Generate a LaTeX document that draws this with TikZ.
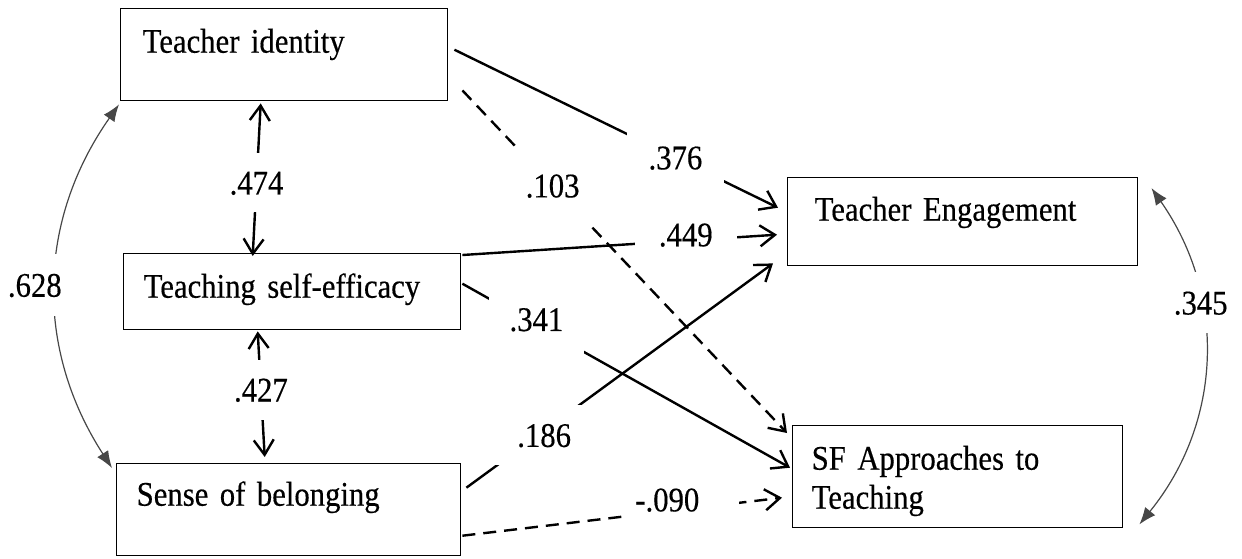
\documentclass[tikz,border=0pt]{standalone}
\usepackage{fontspec}
\setmainfont{Liberation Serif}[FakeStretch=0.89,FakeBold=0.4]
\usetikzlibrary{arrows.meta}
\newcommand{\txshift}[2]{\hspace*{#1}#2\hspace*{-#1}}
\begin{document}
\begin{tikzpicture}[x=1pt,y=-1pt, font=\fontsize{34.5pt}{39pt}\selectfont,
  box/.style={draw=black, line width=1.4pt, anchor=north west, align=left, inner ysep=0pt},
  lbl/.style={fill=white, inner ysep=0pt, text height=23.4pt, text depth=0pt},
  conn/.style={line width=2.4pt, -{Straight Barb[length=15pt,width=21pt]}},
  conntwo/.style={line width=2.4pt, {Straight Barb[length=15pt,width=20pt]}-{Straight Barb[length=15pt,width=20pt]}},
  dashline/.style={dash pattern=on 13pt off 8pt},
  corr/.style={line width=1.2pt, draw=black!72, {Latex[length=17pt,width=13pt]}-{Latex[length=17pt,width=13pt]}}
]
\useasboundingbox (0,0) rectangle (1242,558);

% boxes
\node[box, text width=283pt, inner xsep=22pt, text height=44pt, text depth=48pt] (TI) at (120,8) {Teacher identity};
\node[box, text width=297pt, inner xsep=20pt, text height=44pt, text depth=32pt] (TSE) at (123,253) {Teaching self-efficacy};
\node[box, text width=304pt, inner xsep=20pt, text height=42pt, text depth=50pt] (SoB) at (116,463) {Sense of belonging};
\node[box, text width=296pt, inner xsep=27pt, text height=43pt, text depth=45pt] (TE) at (787,177) {Teacher Engagement};
\node[box, text width=292pt, inner xsep=19pt, text height=44pt, text depth=58pt] (SF) at (792,425) {SF Approaches to\\Teaching};

% paths
\draw[conn] ([shift={(6,-5)}]TI.east) -- node[lbl, pos=0.683, inner xsep=22pt, minimum height=60pt] (l376) {.376} ([shift={(-9,-14)}]TE.west);
\draw[conn, dashline] ([shift={(14,-11)}]TI.south east) -- node[lbl, pos=0.278, inner xsep=10pt, minimum height=74pt] (l103) {.103} ([shift={(-5,8)}]SF.north west);
\draw[conn] ([shift={(1,2)}]TSE.north east) -- node[lbl, pos=0.71, inner xsep=24pt, minimum height=40pt, yshift=6pt] (l449) {.449} ([shift={(-10,13)}]TE.west);
\draw[conn] ([shift={(1,-8)}]TSE.east) -- node[lbl, pos=0.226, inner xsep=21pt, minimum height=70pt, yshift=6pt] (l341) {.341} ([shift={(-2,-9)}]SF.west);
\draw[conn] ([shift={(5,-22)}]SoB.east) -- node[lbl, pos=0.234, inner xsep=30pt, minimum height=60pt] (l186) {\txshift{6pt}{.186}} ([shift={(-14,-3)}]TE.south west);
\draw[conn, dashline] ([shift={(1,26)}]SoB.east) -- node[lbl, pos=0.685, inner xsep=26pt, minimum height=50pt, yshift=10pt] (l090) {\txshift{-14pt}{-.090}} ([shift={(-10,21)}]SF.west);

% correlations between predictors
\draw[conntwo] ([shift={(-23.5,2)}]TI.south) -- node[lbl, pos=0.52, inner xsep=4pt, minimum height=59pt] (l474) {.474} ([shift={(-39.5,3)}]TSE.north);
\draw[conntwo] ([shift={(-34.5,1)}]TSE.south) -- node[lbl, pos=0.465, inner xsep=4pt, minimum height=60pt] (l427) {.427} ([shift={(-24,-6)}]SoB.north);

% curved correlations
\draw[corr] ([shift={(-1,3)}]TI.south west) to[bend right=34] node[lbl, pos=0.5, xshift=-21pt, inner xsep=3pt, minimum height=62pt] (l628) {.628} ([shift={(-4,5)}]SoB.north west);
\draw[corr] ([shift={(13,11)}]TE.north east) to[bend left=37] node[lbl, pos=0.34, inner xsep=4pt, minimum height=61pt] (l345) {.345} ([shift={(16,-4)}]SF.south east);
\end{tikzpicture}
\end{document}
